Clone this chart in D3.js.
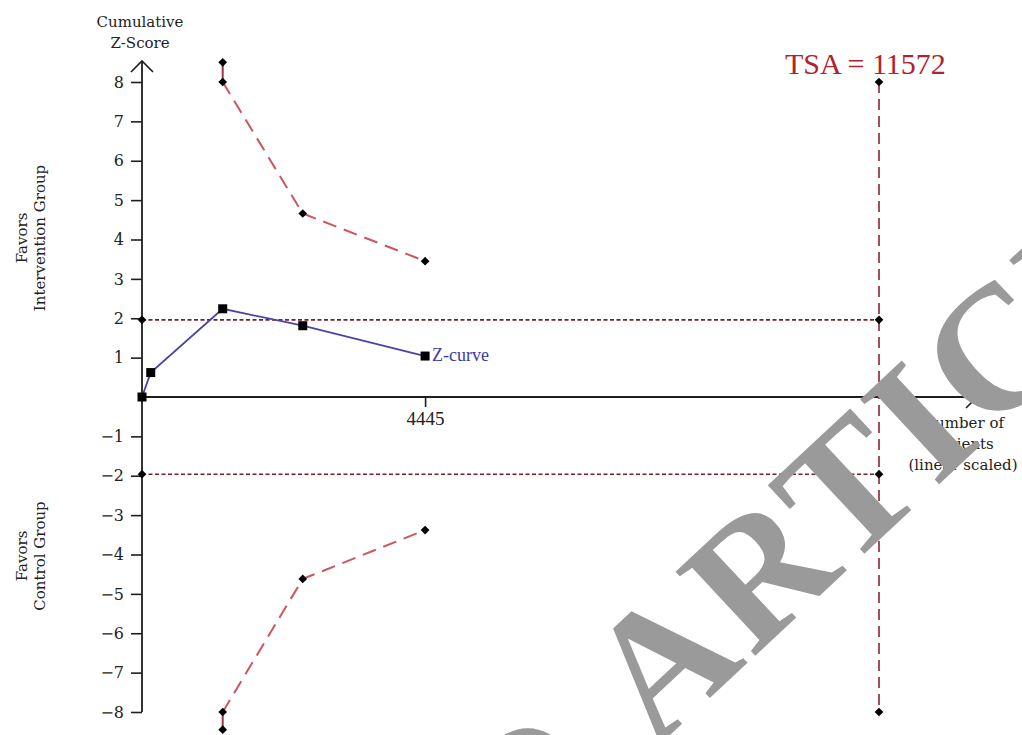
<!DOCTYPE html>
<html>
<head>
<meta charset="utf-8">
<script src="https://cdn.jsdelivr.net/npm/d3@7"></script>
<style>
  html, body { margin: 0; background: #fff; }
  svg { display: block; }
</style>
</head>
<body>
<svg id="chart" width="1022" height="735"></svg>
<script>
// Trial sequential analysis: cumulative Z-curve, monitoring boundaries, required information size
const zPatients = [0, 137, 1267, 2524, 4445];
const zScores = [0, 0.62, 2.24, 1.81, 1.04];
const boundaryPatients = [1267, 2524, 4445];
const upperBoundary = [8.0, 4.66, 3.45];
const lowerBoundary = [-8.0, -4.62, -3.38];
const offScaleUpper = 8.5;
const offScaleLower = -8.45;
const conventionalZ = 1.96;
const requiredSize = 11572;
const yTickValues = [-8, -7, -6, -5, -4, -3, -2, -1, 1, 2, 3, 4, 5, 6, 7, 8];
const xTickValues = [4445];

const svg = d3.select('#chart');
const x = d3.scaleLinear().domain([0, requiredSize]).range([142, 879]);
const y = d3.scaleLinear().domain([-8, 8]).range([712, 82]);

const serif = 'DejaVu Serif, serif';
const times = 'Liberation Serif, Times New Roman, serif';
const axisColor = '#1e1e1e';

// ---- axes ----
const yAxis = d3.axisLeft(y).tickValues(yTickValues).tickSize(11).tickPadding(7)
  .tickFormat(d3.format('d'));
const gy = svg.append('g').attr('transform', `translate(${x(0)},0)`).call(yAxis);
gy.select('.domain').remove();
gy.selectAll('.tick line').attr('stroke', axisColor).attr('stroke-width', 1.6);
gy.selectAll('.tick text').attr('font-family', serif).attr('font-size', 16).attr('fill', '#222');

const xAxis = d3.axisBottom(x).tickValues(xTickValues).tickSize(10).tickPadding(5)
  .tickFormat(d3.format('d'));
const gx = svg.append('g').attr('transform', `translate(0,${y(0)})`).call(xAxis);
gx.select('.domain').remove();
gx.selectAll('.tick line').attr('stroke', axisColor).attr('stroke-width', 1.6);
gx.selectAll('.tick text').attr('font-family', times).attr('font-size', 19).attr('fill', '#222');

// axis lines with open arrowheads
const yTop = y(8) - 21;
const xEnd = x(requiredSize) + 98;
svg.append('line').attr('x1', x(0)).attr('x2', x(0)).attr('y1', y(-8)).attr('y2', yTop)
  .attr('stroke', axisColor).attr('stroke-width', 1.8);
svg.append('path').attr('d', `M${x(0) - 11},${yTop + 11}L${x(0)},${yTop}L${x(0) + 11},${yTop + 11}`)
  .attr('fill', 'none').attr('stroke', axisColor).attr('stroke-width', 1.6);
svg.append('line').attr('x1', x(0)).attr('x2', xEnd).attr('y1', y(0)).attr('y2', y(0))
  .attr('stroke', axisColor).attr('stroke-width', 1.8);
svg.append('path').attr('d', `M${xEnd - 11},${y(0) - 11}L${xEnd},${y(0)}L${xEnd - 11},${y(0) + 11}`)
  .attr('fill', 'none').attr('stroke', axisColor).attr('stroke-width', 1.6);

// ---- conventional boundaries (Z = ±1.96) ----
[conventionalZ, -conventionalZ].forEach(z => {
  svg.append('line').attr('x1', x(0)).attr('x2', x(requiredSize)).attr('y1', y(z)).attr('y2', y(z))
    .attr('stroke', '#7a1f27').attr('stroke-width', 1.6).attr('stroke-dasharray', '4,2.5');
});

// ---- required information size ----
svg.append('line').attr('x1', x(requiredSize)).attr('x2', x(requiredSize)).attr('y1', y(8)).attr('y2', y(-8))
  .attr('stroke', '#8e2433').attr('stroke-width', 1.6).attr('stroke-dasharray', '11,6');

// ---- monitoring boundaries ----
const line = d3.line().x(d => x(d[0])).y(d => y(d[1]));
[upperBoundary, lowerBoundary].forEach(vals => {
  svg.append('path').attr('d', line(boundaryPatients.map((p, i) => [p, vals[i]])))
    .attr('fill', 'none').attr('stroke', '#cc5560').attr('stroke-width', 2)
    .attr('stroke-dasharray', '14,8');
});
[[upperBoundary[0], offScaleUpper], [lowerBoundary[0], offScaleLower]].forEach(([a, b]) => {
  svg.append('line').attr('x1', x(boundaryPatients[0])).attr('x2', x(boundaryPatients[0]))
    .attr('y1', y(a)).attr('y2', y(b)).attr('stroke', '#9a3845').attr('stroke-width', 2);
});

// ---- Z-curve ----
svg.append('path').attr('d', line(zPatients.map((p, i) => [p, zScores[i]])))
  .attr('fill', 'none').attr('stroke', '#4b43a6').attr('stroke-width', 1.8);
svg.selectAll('rect.zpt').data(zPatients.map((p, i) => [p, zScores[i]])).enter().append('rect')
  .attr('class', 'zpt')
  .attr('x', d => x(d[0]) - 4.5).attr('y', d => y(d[1]) - 4.5)
  .attr('width', 9).attr('height', 9).attr('fill', '#000');

// ---- diamond markers ----
const diamonds = [
  [0, conventionalZ], [0, -conventionalZ],
  [requiredSize, 8], [requiredSize, conventionalZ], [requiredSize, -conventionalZ], [requiredSize, -8],
  [boundaryPatients[0], offScaleUpper], [boundaryPatients[0], offScaleLower]
]
  .concat(boundaryPatients.map((p, i) => [p, upperBoundary[i]]))
  .concat(boundaryPatients.map((p, i) => [p, lowerBoundary[i]]));
const diamond = d3.symbol().type(d3.symbolSquare).size(38);
svg.selectAll('path.dia').data(diamonds).enter().append('path')
  .attr('class', 'dia')
  .attr('d', diamond)
  .attr('transform', d => `translate(${x(d[0])},${y(d[1])}) rotate(45)`)
  .attr('fill', '#000');

// ---- labels ----
const lastZ = zScores.length - 1;
svg.append('text').attr('x', x(zPatients[lastZ]) + 7).attr('y', y(zScores[lastZ]) + 5)
  .attr('font-family', times).attr('font-size', 18).attr('fill', '#3c3a9e').text('Z-curve');

svg.append('text').attr('x', 785).attr('y', 74)
  .attr('font-family', times).attr('font-size', 30).attr('fill', '#b1222c')
  .text(`TSA = ${requiredSize}`);

const yTitle = svg.append('text').attr('font-family', serif).attr('font-size', 15)
  .attr('fill', '#222').attr('text-anchor', 'middle');
yTitle.append('tspan').attr('x', 140).attr('y', 27).text('Cumulative');
yTitle.append('tspan').attr('x', 140).attr('y', 48).text('Z-Score');

const xTitle = svg.append('text').attr('font-family', serif).attr('font-size', 15)
  .attr('fill', '#222').attr('text-anchor', 'middle');
['Number of', 'patients', '(linear scaled)'].forEach((t, i) => {
  xTitle.append('tspan').attr('x', 963).attr('y', 428 + i * 21).text(t);
});

function sideLabel(cy, lines) {
  const g = svg.append('text').attr('transform', `translate(0,${cy}) rotate(-90)`)
    .attr('font-family', serif).attr('font-size', 15).attr('fill', '#222')
    .attr('text-anchor', 'middle');
  lines.forEach((t, i) => g.append('tspan').attr('x', 0).attr('y', 27 + i * 18).text(t));
}
sideLabel(238, ['Favors', 'Intervention Group']);
sideLabel(556, ['Favors', 'Control Group']);

// ---- diagonal watermark ----
const wm = svg.append('g').attr('transform', 'translate(655,749) rotate(-43)')
  .attr('font-family', times).attr('font-weight', 'bold').attr('font-size', 177)
  .attr('letter-spacing', 5).attr('fill', '#9a9a9a');
wm.append('text').attr('x', -50).attr('text-anchor', 'end').text('RETRACTED');
wm.append('text').attr('x', 0).text('ARTICLE');
</script>
</body>
</html>
